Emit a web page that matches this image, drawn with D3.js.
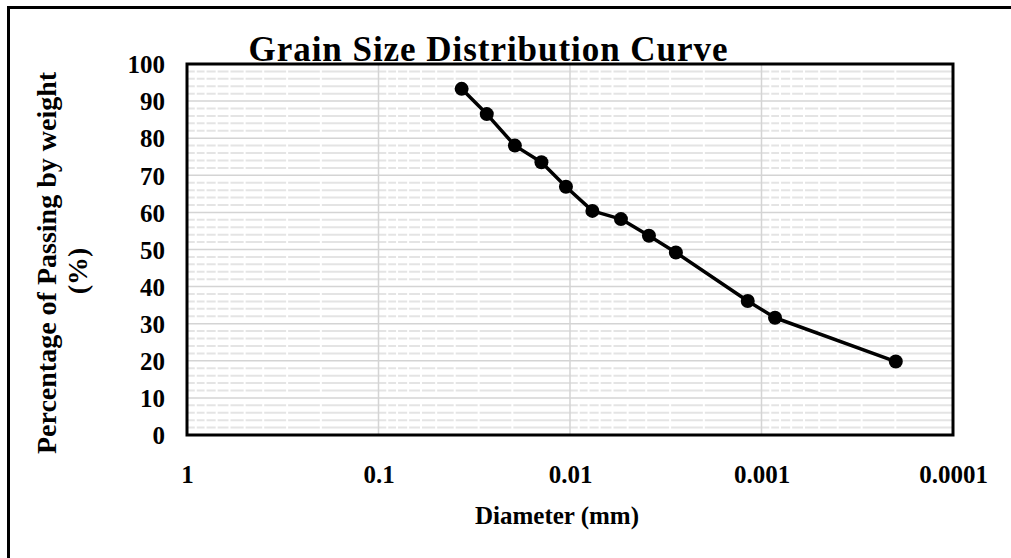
<!DOCTYPE html>
<html>
<head>
<meta charset="utf-8">
<script src="https://cdn.jsdelivr.net/npm/d3@7"></script>
<style>
  html, body { margin: 0; padding: 0; background: #fff; }
  svg { display: block; }
  text { font-family: "Liberation Serif", "Times New Roman", serif; font-weight: bold; fill: #000; }
</style>
</head>
<body>
<svg id="chart" width="1011" height="558"></svg>
<script>
// ---- Data ----
const diameters = [0.0368, 0.0272, 0.0194, 0.0141, 0.0105, 0.00764, 0.00542, 0.00387, 0.00280, 0.00118, 0.00085, 0.000199];
const percentPassing = [93.3, 86.5, 78.0, 73.5, 66.9, 60.4, 58.2, 53.7, 49.2, 36.1, 31.6, 19.8];
const xTickValues = [1, 0.1, 0.01, 0.001, 0.0001];
const xTickLabels = ["1", "0.1", "0.01", "0.001", "0.0001"];
const yTickValues = [0, 10, 20, 30, 40, 50, 60, 70, 80, 90, 100];
const yMinorValues = d3.range(0, 101, 2);
const titleText = "Grain Size Distribution Curve";
const xTitle = "Diameter (mm)";
const yTitleLines = ["Percentage of Passing by weight", "(%)"];

// ---- Layout ----
const svg = d3.select("#chart");
const L = 187, R = 953, T = 64, B = 435;

const x = d3.scaleLog().domain([1, 0.0001]).range([L, R]);
const y = d3.scaleLinear().domain([0, 100]).range([B, T]);

// outer frame (left and top only, as in the reference)
svg.append("line").attr("x1", 8.5).attr("x2", 8.5).attr("y1", 6).attr("y2", 558)
  .attr("stroke", "#000").attr("stroke-width", 3);
svg.append("line").attr("x1", 7).attr("x2", 1011).attr("y1", 7.5).attr("y2", 7.5)
  .attr("stroke", "#000").attr("stroke-width", 3);

const grid = svg.append("g");

// minor horizontal gridlines
grid.selectAll(".hmin").data(yMinorValues.filter(v => v % 10 !== 0)).join("line")
  .attr("x1", L).attr("x2", R).attr("y1", d => y(d)).attr("y2", d => y(d))
  .attr("stroke", "#e4e4e4").attr("stroke-width", 2);

// minor vertical gridlines (white, break the minor horizontals)
const minorX = x.ticks().filter(v => !xTickValues.some(t => Math.abs(t - v) / t < 1e-6));
grid.selectAll(".vmin").data(minorX).join("line")
  .attr("x1", d => x(d)).attr("x2", d => x(d)).attr("y1", T).attr("y2", B)
  .attr("stroke", "#ffffff").attr("stroke-width", 2);

// major gridlines
grid.selectAll(".hmaj").data(yTickValues).join("line")
  .attr("x1", L).attr("x2", R).attr("y1", d => y(d)).attr("y2", d => y(d))
  .attr("stroke", "#d4d4d4").attr("stroke-width", 1.5);
grid.selectAll(".vmaj").data(xTickValues).join("line")
  .attr("x1", d => x(d)).attr("x2", d => x(d)).attr("y1", T).attr("y2", B)
  .attr("stroke", "#d4d4d4").attr("stroke-width", 1.5);

// plot-area border
svg.append("rect").attr("x", L).attr("y", T).attr("width", R - L).attr("height", B - T)
  .attr("fill", "none").attr("stroke", "#000").attr("stroke-width", 3);

// axes (labels only)
const xAxis = d3.axisBottom(x).tickValues(xTickValues)
  .tickFormat((d, i) => xTickLabels[i]).tickSize(0).tickPadding(0);
const gx = svg.append("g").attr("transform", `translate(0,${B})`).call(xAxis);
gx.select(".domain").remove();
gx.selectAll("text").attr("dy", null).attr("y", 48)
  .style("font-family", '"Liberation Serif", serif').style("font-weight", "bold").style("font-size", "25px");

const yAxis = d3.axisLeft(y).tickValues(yTickValues).tickSize(0).tickPadding(0);
const gy = svg.append("g").attr("transform", `translate(${L - 22},0)`).call(yAxis);
gy.select(".domain").remove();
gy.selectAll("text").attr("x", 0).attr("dy", "0.35em")
  .style("font-family", '"Liberation Serif", serif').style("font-weight", "bold").style("font-size", "25px");

// data line + markers
const line = d3.line().x((d, i) => x(diameters[i])).y(d => y(d));
svg.append("path").datum(percentPassing).attr("d", line)
  .attr("fill", "none").attr("stroke", "#000").attr("stroke-width", 3.5).attr("stroke-linejoin", "round");
svg.selectAll(".pt").data(percentPassing).join("circle")
  .attr("cx", (d, i) => x(diameters[i])).attr("cy", d => y(d)).attr("r", 7).attr("fill", "#000");

// titles
svg.append("text").attr("x", 488).attr("y", 61).attr("text-anchor", "middle")
  .attr("textLength", 479).attr("lengthAdjust", "spacing")
  .style("font-size", "35px").text(titleText);
svg.append("text").attr("x", 557).attr("y", 524).attr("text-anchor", "middle")
  .style("font-size", "25px").text(xTitle);
const yt = svg.append("text").attr("transform", "translate(56,263) rotate(-90)")
  .attr("text-anchor", "middle").style("font-size", "28px");
yt.append("tspan").attr("x", 0).attr("y", 0).text(yTitleLines[0]);
yt.append("tspan").attr("x", -8).attr("y", 31).text(yTitleLines[1]);
</script>
</body>
</html>
